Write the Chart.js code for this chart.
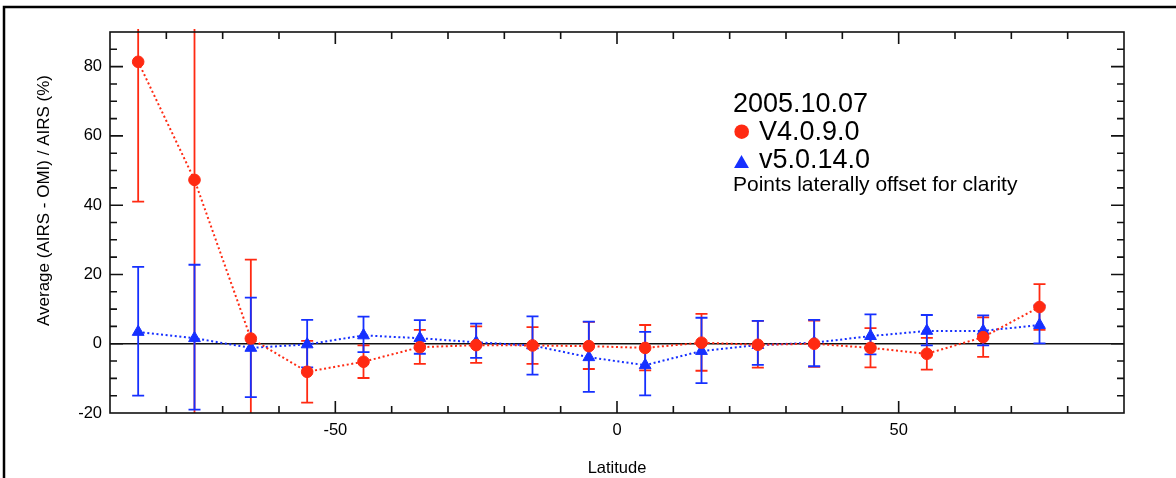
<!DOCTYPE html>
<html>
<head>
<meta charset="utf-8">
<script src="https://cdn.jsdelivr.net/npm/chart.js@4"></script>
<style>
  html, body { margin: 0; padding: 0; background: #fff; }
  #wrap { width: 1176px; height: 478px; position: relative; }
</style>
</head>
<body>
<div id="wrap"><canvas id="c" width="1176" height="478"></canvas></div>
<script>
// ---- data ----
const latitudes = [-85, -75, -65, -55, -45, -35, -25, -15, -5, 5, 15, 25, 35, 45, 55, 65, 75];

const v4Values = [81.4, 47.3, 1.5, -8.1, -5.2, -1.0, -0.4, -0.5, -0.7, -1.2, 0.3, -0.3, 0.0, -1.2, -2.9, 1.9, 10.6];
const v4Upper  = [122, 118, 24.3, 0.8, -0.5, 4.0, 5.0, 4.8, 6.3, 5.4, 8.6, 6.6, 6.7, 4.5, 1.7, 7.6, 17.2];
const v4Lower  = [41, -23, -21.2, -17, -9.9, -5.8, -5.5, -5.8, -7.3, -7.7, -7.8, -6.9, -6.7, -6.8, -7.5, -3.8, 4.0];

const v5Values = [3.4, 1.6, -1.2, -0.2, 2.4, 1.6, 0.4, -0.5, -3.9, -6.2, -2.1, -0.4, 0.3, 2.2, 3.7, 3.7, 5.4];
const v5Upper  = [22.2, 22.8, 13.3, 6.9, 7.8, 6.8, 5.8, 7.9, 6.4, 3.4, 7.5, 6.6, 6.9, 8.5, 8.3, 8.2, 11.1];
const v5Lower  = [-15, -19, -15.4, -6.8, -2.4, -2.9, -4.1, -8.9, -13.9, -14.9, -11.4, -6.1, -6.5, -3.1, -0.5, -0.5, 0.1];

const xTickLabels = [-50, 0, 50];
const yTickLabels = [-20, 0, 20, 40, 60, 80];
const xMinorTicks = [-80, -70, -60, -50, -40, -30, -20, -10, 0, 10, 20, 30, 40, 50, 60, 70, 80];
const yMinorTicks = [-15, -10, -5, 0, 5, 10, 15, 20, 25, 30, 35, 40, 45, 50, 55, 60, 65, 70, 75, 80, 85];

const legendTitle = '2005.10.07';
const seriesNames = ['V4.0.9.0', 'v5.0.14.0'];
const legendNote = 'Points laterally offset for clarity';
const xTitle = 'Latitude';
const yTitle = 'Average (AIRS - OMI) / AIRS (%)';

// ---- styles ----
const RED = 'rgb(255,42,18)';
const BLUE = 'rgb(22,48,255)';
const FONT = "'Liberation Sans', Arial, Helvetica, sans-serif";

const errBars = [
  { upper: v4Upper, lower: v4Lower, color: RED },
  { upper: v5Upper, lower: v5Lower, color: BLUE }
];

const toXY = (vals) => latitudes.map((x, i) => ({ x, y: vals[i] }));

const framePlugin = {
  id: 'framePlugin',
  beforeDraw(chart) {
    const ctx = chart.ctx;
    ctx.save();
    ctx.fillStyle = '#fff';
    ctx.fillRect(0, 0, chart.width, chart.height);
    // outer frame (top + left)
    ctx.strokeStyle = '#000';
    ctx.lineWidth = 2.5;
    ctx.beginPath();
    ctx.moveTo(4, chart.height + 2);
    ctx.lineTo(4, 7);
    ctx.lineTo(chart.width + 2, 7);
    ctx.stroke();
    ctx.restore();
  },
  beforeDatasetsDraw(chart) {
    const { ctx, chartArea: a, scales: { x, y } } = chart;
    ctx.save();
    // zero line
    const y0 = y.getPixelForValue(0);
    ctx.strokeStyle = '#111';
    ctx.lineWidth = 1.6;
    ctx.beginPath();
    ctx.moveTo(a.left, y0);
    ctx.lineTo(a.right, y0);
    ctx.stroke();
    // error bars
    ctx.beginPath();
    ctx.rect(a.left, a.top - 3, a.right - a.left, a.bottom - a.top + 3);
    ctx.clip();
    errBars.forEach(eb => {
      ctx.strokeStyle = eb.color;
      ctx.lineWidth = 1.8;
      latitudes.forEach((lat, i) => {
        const px = x.getPixelForValue(lat);
        const pu = y.getPixelForValue(eb.upper[i]);
        const pl = y.getPixelForValue(eb.lower[i]);
        ctx.beginPath();
        ctx.moveTo(px, pu); ctx.lineTo(px, pl);
        ctx.moveTo(px - 6, pu); ctx.lineTo(px + 6, pu);
        ctx.moveTo(px - 6, pl); ctx.lineTo(px + 6, pl);
        ctx.stroke();
      });
    });
    ctx.restore();
  },
  afterDraw(chart) {
    const { ctx, chartArea: a, scales: { x, y } } = chart;
    ctx.save();
    // plot frame
    ctx.strokeStyle = '#111';
    ctx.lineWidth = 1.6;
    ctx.strokeRect(a.left, a.top, a.right - a.left, a.bottom - a.top);
    // inward ticks
    ctx.beginPath();
    xMinorTicks.forEach(v => {
      const px = x.getPixelForValue(v);
      const len = xTickLabels.includes(v) ? 12 : 7;
      ctx.moveTo(px, a.bottom); ctx.lineTo(px, a.bottom - len);
      ctx.moveTo(px, a.top); ctx.lineTo(px, a.top + len);
    });
    yMinorTicks.forEach(v => {
      const py = y.getPixelForValue(v);
      const len = yTickLabels.includes(v) ? 13 : 7;
      ctx.moveTo(a.left, py); ctx.lineTo(a.left + len, py);
      ctx.moveTo(a.right, py); ctx.lineTo(a.right - len, py);
    });
    ctx.stroke();

    // y title
    ctx.fillStyle = '#000';
    ctx.font = '17px ' + FONT;
    ctx.textAlign = 'center';
    ctx.textBaseline = 'middle';
    ctx.translate(44, 200.5);
    ctx.rotate(-Math.PI / 2);
    ctx.fillText(yTitle, 0, 0);
    ctx.setTransform(1, 0, 0, 1, 0, 0);

    // legend block
    ctx.textAlign = 'left';
    ctx.textBaseline = 'alphabetic';
    ctx.font = '27px ' + FONT;
    ctx.fillText(legendTitle, 733, 111.5);
    ctx.fillText(seriesNames[0], 759, 140);
    ctx.fillText(seriesNames[1], 759, 168.3);
    ctx.font = '21px ' + FONT;
    ctx.fillText(legendNote, 733, 190.7);
    ctx.fillStyle = RED;
    ctx.strokeStyle = RED;
    Chart.helpers.drawPoint(ctx, { pointStyle: 'circle', radius: 7.3, rotation: 0, borderWidth: 0 }, 741.7, 131.7);
    ctx.fillStyle = BLUE;
    ctx.strokeStyle = BLUE;
    Chart.helpers.drawPoint(ctx, { pointStyle: 'triangle', radius: 8.6, rotation: 0, borderWidth: 0 }, 741.5, 163.7);
    ctx.restore();
  }
};

new Chart(document.getElementById('c'), {
  type: 'scatter',
  data: {
    datasets: [
      {
        label: seriesNames[0],
        data: toXY(v4Values),
        showLine: true,
        borderColor: RED,
        backgroundColor: RED,
        borderWidth: 2,
        borderDash: [2, 2.6],
        pointStyle: 'circle',
        pointRadius: 5.8,
        pointBorderWidth: 1,
        pointBackgroundColor: RED,
        pointBorderColor: RED
      },
      {
        label: seriesNames[1],
        data: toXY(v5Values),
        showLine: true,
        borderColor: BLUE,
        backgroundColor: BLUE,
        borderWidth: 2,
        borderDash: [2, 2.6],
        pointStyle: 'triangle',
        pointRadius: 6.8,
        pointBorderWidth: 1,
        pointBackgroundColor: BLUE,
        pointBorderColor: BLUE
      }
    ]
  },
  options: {
    responsive: false,
    animation: false,
    devicePixelRatio: 1,
    layout: { padding: { top: 32, right: 52, left: 0, bottom: 0 } },
    plugins: { legend: { display: false }, tooltip: { enabled: false } },
    scales: {
      x: {
        type: 'linear',
        min: -90,
        max: 90,
        afterBuildTicks(scale) { scale.ticks = xTickLabels.map(v => ({ value: v })); },
        afterFit(scale) { scale.height = 65; },
        grid: { display: false, drawTicks: false },
        border: { display: false },
        ticks: { color: '#000', padding: 8, maxRotation: 0, font: { family: FONT, size: 16.5 } },
        title: { display: true, text: xTitle, color: '#000', padding: { top: 0, bottom: 0 }, font: { family: FONT, size: 16.5 } }
      },
      y: {
        type: 'linear',
        min: -20,
        max: 90,
        afterBuildTicks(scale) { scale.ticks = yTickLabels.map(v => ({ value: v })); },
        afterFit(scale) { scale.width = 110; },
        grid: { display: false, drawTicks: false },
        border: { display: false },
        ticks: { color: '#000', padding: 8, font: { family: FONT, size: 16.5 } },
        title: { display: false }
      }
    }
  },
  plugins: [framePlugin]
});
</script>
</body>
</html>
